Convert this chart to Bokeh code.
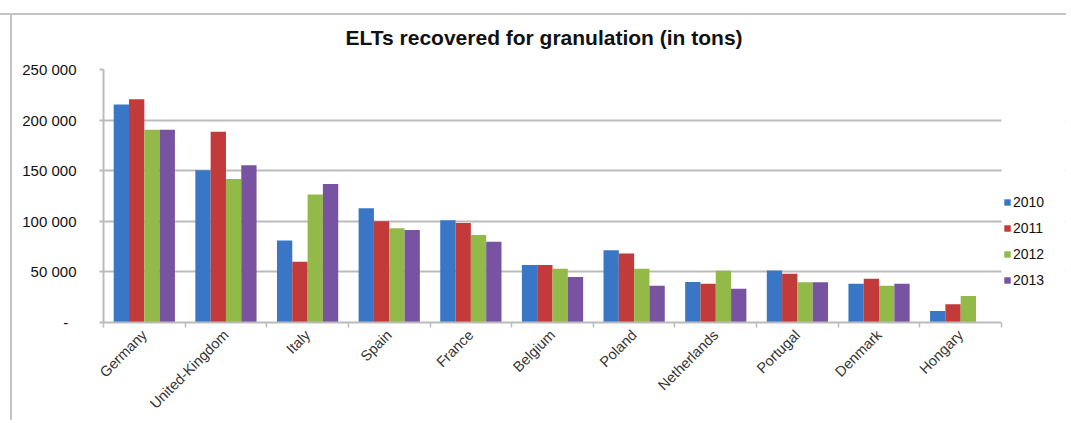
import math
from bokeh.plotting import figure
from bokeh.models import (Range1d, FixedTicker, ColumnDataSource, Legend,
                          LegendItem, BoxAnnotation)
from bokeh.transform import dodge
from bokeh.embed import file_html
from bokeh.resources import INLINE

# ---------------- data ----------------
chart_title = "ELTs recovered for granulation (in tons)"
countries = ["Germany", "United-Kingdom", "Italy", "Spain", "France", "Belgium",
             "Poland", "Netherlands", "Portugal", "Denmark", "Hongary"]
years = ["2010", "2011", "2012", "2013"]
v2010 = [215500, 150500, 81000, 113000, 101000, 56700, 71500, 40000, 51500, 38300, 11400]
v2011 = [220500, 188500, 60000, 100000, 98400, 56700, 68200, 38300, 48200, 43300, 18000]
v2012 = [190500, 141700, 126600, 93100, 86400, 53100, 53100, 51200, 39700, 36400, 26200]
v2013 = [190500, 155500, 136800, 91500, 79800, 44900, 36400, 33400, 39700, 38300, float("nan")]
y_ticks = [0, 50000, 100000, 150000, 200000, 250000]
y_tick_labels = ["-\u00a0\u00a0", "50 000", "100 000", "150 000", "200 000", "250 000"]
colors = ["#3A76C6", "#C23A39", "#93B949", "#7753A1"]

FONT = "Liberation Sans"
GRAY = "#BBBBBB"
W, H = 1066, 420

n = len(countries)
centers = [i + 0.5 for i in range(n)]      # category slot centres
bounds = list(range(n + 1))                # category slot boundaries
x_end = n * 961 / 898                      # room on the right for the legend

p = figure(width=W, height=H, x_range=Range1d(0, x_end),
           y_range=Range1d(0, 250000), output_backend="svg",
           toolbar_location=None, min_border_left=103, min_border_right=2,
           min_border_top=69, min_border_bottom=97,
           background_fill_color="white", border_fill_alpha=0,
           outline_line_color=None)
# outer chart frame lines (top / left), drawn behind the transparent border area
p.styles = {
    "background-image": "linear-gradient(#C4C4C4, #C4C4C4), linear-gradient(#C4C4C4, #C4C4C4)",
    "background-size": "100% 2px, 2px 100%",
    "background-position": "0 13px, 10px 13px",
    "background-repeat": "no-repeat",
}

# title
p.title.text = chart_title
p.title.align = "left"
p.title.offset = 242
p.title.vertical_align = "top"
p.title.text_font = FONT
p.title.text_font_size = "21px"
p.title.text_font_style = "bold"
p.title.text_color = "#111111"
p.title.standoff = 38

# bars
src = ColumnDataSource(dict(pos=centers, country=countries, y2010=v2010,
                            y2011=v2011, y2012=v2012, y2013=v2013))
w = 0.1875
items = []
for i, (yr, col) in enumerate(zip(years, colors)):
    r = p.vbar(x=dodge("pos", (i - 1.5) * w), top="y" + yr,
               width=w, source=src, fill_color=col, line_color=None)
    items.append(LegendItem(label=yr, renderers=[r]))

# y axis
p.yaxis.ticker = FixedTicker(ticks=y_ticks)
p.yaxis.major_label_overrides = dict(zip(y_ticks, y_tick_labels))
p.yaxis.axis_line_color = GRAY
p.yaxis.axis_line_width = 2
p.yaxis.major_tick_line_color = GRAY
p.yaxis.major_tick_line_width = 2
p.yaxis.major_tick_out = 4
p.yaxis.major_tick_in = 0
p.yaxis.minor_tick_line_color = None
p.yaxis.major_label_standoff = 23
p.yaxis.major_label_text_font = FONT
p.yaxis.major_label_text_font_size = "15px"
p.yaxis.major_label_text_color = "#111111"

p.ygrid.grid_line_color = GRAY
p.ygrid.grid_line_width = 2
p.xgrid.grid_line_color = None

# x axis: category labels at centres, tick marks at boundaries
xa = p.xaxis[0]
xa.ticker = FixedTicker(ticks=centers, minor_ticks=bounds)
xa.major_label_overrides = dict(zip(centers, countries))
xa.bounds = (0, n)
xa.axis_line_color = GRAY
xa.axis_line_width = 2
xa.major_tick_line_color = None
xa.major_tick_out = 5
xa.minor_tick_line_color = GRAY
xa.minor_tick_line_width = 1.5
xa.minor_tick_out = 5
xa.minor_tick_in = 0
xa.major_label_orientation = math.pi / 4
xa.major_label_text_font = FONT
xa.major_label_text_font_size = "14.5px"
xa.major_label_text_color = "#333333"
xa.major_label_standoff = 5

# blank strip right of the plot area (gridlines stop at the last category)
p.add_layout(BoxAnnotation(left=n, fill_color="white", fill_alpha=1,
                           line_alpha=0))

# legend
legend = Legend(items=items, location=(900, 32), orientation="vertical",
                border_line_color=None, background_fill_alpha=0,
                padding=0, margin=0, spacing=6, glyph_width=8, glyph_height=8,
                label_height=20, label_standoff=2,
                label_text_font=FONT, label_text_font_size="14px",
                label_text_color="#111111")
p.add_layout(legend)

open("out.html", "w").write(file_html(p, INLINE))
